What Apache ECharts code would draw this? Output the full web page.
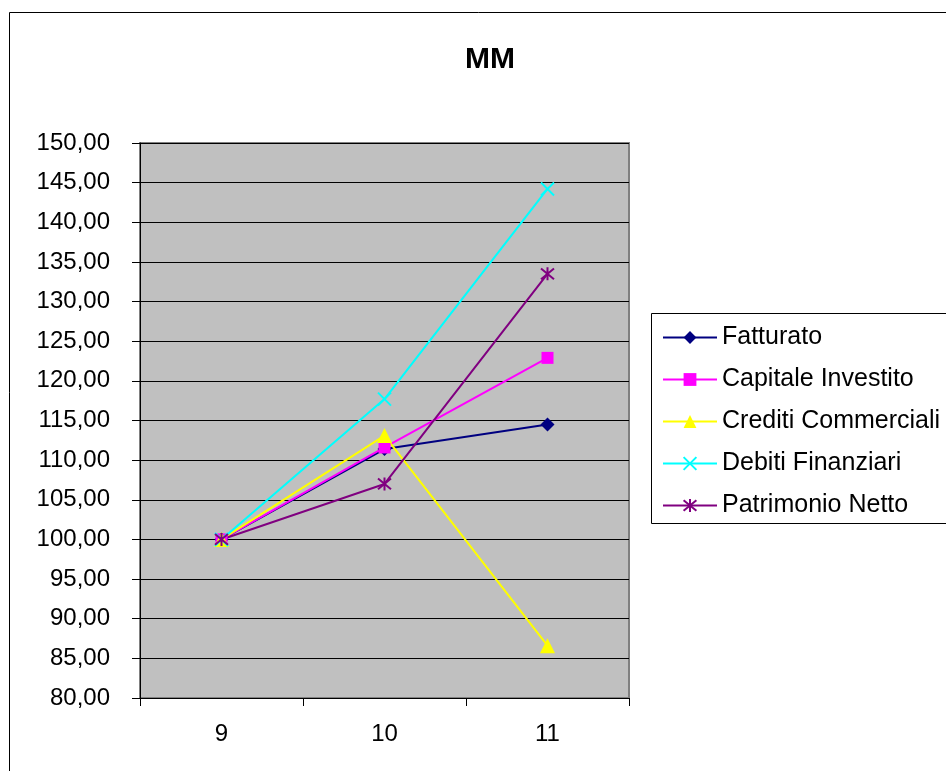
<!DOCTYPE html>
<html>
<head>
<meta charset="utf-8">
<script src="https://cdn.jsdelivr.net/npm/echarts@6/dist/echarts.min.js"></script>
<style>
  html, body { margin: 0; padding: 0; background: #fff; }
  #chart { width: 946px; height: 771px; }
</style>
</head>
<body>
<div id="chart"></div>
<script>
// Years on the category axis
const years = ['9', '10', '11'];

// Index values (base year = 100)
const fatturato = [100.0, 111.4, 114.5];
const capitaleInvestito = [100.0, 111.6, 122.9];
const creditiCommerciali = [100.0, 113.1, 86.6];
const debitiFinanziari = [100.0, 117.7, 144.2];
const patrimonioNetto = [100.0, 107.0, 133.5];

const seriesNames = ['Fatturato', 'Capitale Investito', 'Crediti Commerciali', 'Debiti Finanziari', 'Patrimonio Netto'];
const seriesData = [fatturato, capitaleInvestito, creditiCommerciali, debitiFinanziari, patrimonioNetto];
const seriesColors = ['#000080', '#FF00FF', '#FFFF00', '#00FFFF', '#800080'];

const FONT = "'Liberation Sans', Arial, sans-serif";

// Stroked marker shapes: a cross and an asterisk
const crossPath = 'path://M0,0 L10,10 M10,0 L0,10';
const starPath = 'path://M0,0 L10,10 M10,0 L0,10 M5,-1 L5,11';

const markers = [
  { symbol: 'diamond', size: 14, stroke: false },
  { symbol: 'rect', size: 12, stroke: false },
  { symbol: 'triangle', size: 15, stroke: false },
  { symbol: crossPath, size: 13, stroke: true },
  { symbol: starPath, size: 13, stroke: true }
];

const series = seriesNames.map((name, i) => ({
  name: name,
  type: 'line',
  data: seriesData[i],
  symbol: markers[i].symbol,
  symbolSize: markers[i].size,
  showAllSymbol: true,
  animation: false,
  lineStyle: { color: seriesColors[i], width: 2 },
  itemStyle: markers[i].stroke
    ? { color: 'rgba(0,0,0,0)', borderColor: seriesColors[i], borderWidth: 2 }
    : { color: seriesColors[i], borderWidth: 0 },
  emphasis: { disabled: true }
}));

const chart = echarts.init(document.getElementById('chart'), null, { renderer: 'canvas' });

chart.setOption({
  backgroundColor: '#ffffff',
  animation: false,
  title: {
    text: 'MM',
    left: 485,
    textAlign: 'center',
    top: 40,
    textStyle: { fontFamily: FONT, fontSize: 30, fontWeight: 'bold', color: '#000' }
  },
  graphic: [
    {
      type: 'rect',
      shape: { x: 9.5, y: 12.5, width: 1200, height: 1200 },
      style: { fill: 'none', stroke: '#000', lineWidth: 1 },
      silent: true,
      z: -10
    },
    {
      type: 'rect',
      shape: { x: 651.5, y: 313.5, width: 400, height: 210 },
      style: { fill: '#fff', stroke: '#000', lineWidth: 1 },
      silent: true,
      z: -5
    }
  ],
  legend: {
    orient: 'vertical',
    left: 662,
    top: 325,
    itemWidth: 54,
    itemHeight: 16,
    itemGap: 17,
    padding: 0,
    selectedMode: false,
    textStyle: { fontFamily: FONT, fontSize: 25, color: '#000' },
    data: seriesNames
  },
  grid: {
    left: 140,
    top: 143,
    right: 317,
    bottom: 73,
    show: true,
    backgroundColor: '#C0C0C0',
    borderColor: '#808080',
    borderWidth: 2
  },
  xAxis: {
    type: 'category',
    data: years,
    boundaryGap: true,
    axisLine: { show: true, lineStyle: { color: '#000', width: 1 } },
    axisTick: { show: true, length: 8, inside: false, lineStyle: { color: '#000' } },
    axisLabel: { margin: 24, fontFamily: FONT, fontSize: 24, color: '#000' },
    splitLine: { show: false }
  },
  yAxis: {
    type: 'value',
    min: 80,
    max: 150,
    interval: 5,
    axisLine: { show: true, lineStyle: { color: '#000', width: 1 } },
    axisTick: { show: true, length: 8, inside: false, lineStyle: { color: '#000' } },
    axisLabel: {
      margin: 30,
      fontFamily: FONT,
      fontSize: 24,
      color: '#000',
      formatter: v => v.toFixed(2).replace('.', ',')
    },
    splitLine: { show: true, lineStyle: { color: '#000', width: 1 } }
  },
  series: series
});
</script>
</body>
</html>
